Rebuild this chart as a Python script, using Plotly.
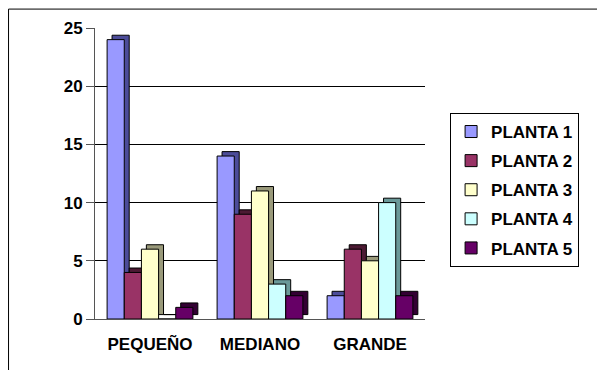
import plotly.graph_objects as go

categories = ["PEQUEÑO", "MEDIANO", "GRANDE"]
series_names = ["PLANTA 1", "PLANTA 2", "PLANTA 3", "PLANTA 4", "PLANTA 5"]
planta_1 = [24, 14, 2]
planta_2 = [4, 9, 6]
planta_3 = [6, 11, 5]
planta_4 = [0, 3, 10]
planta_5 = [1, 2, 2]
y_ticks = [0, 5, 10, 15, 20, 25]

colors = ["#9999FF", "#993366", "#FFFFCC", "#CCFFFF", "#660066"]
side_colors = ["#4C4C99", "#4C1A33", "#99997A", "#6A9999", "#330033"]
values = [planta_1, planta_2, planta_3, planta_4, planta_5]

group = 0.78
w = group / len(series_names)
dx, dy = 0.045, 0.38   # fake 3D depth

fig = go.Figure()
for i, (name, vals, col, scol) in enumerate(zip(series_names, values, colors, side_colors)):
    off = -group / 2 + i * w
    # darker "depth" face behind the bar
    fig.add_trace(go.Bar(
        x=categories, y=vals, base=[dy] * len(vals), offset=off + dx, width=w,
        marker=dict(color=scol, line=dict(color="black", width=1)),
        showlegend=False, hoverinfo="skip",
    ))
    fig.add_trace(go.Bar(
        x=categories, y=vals, name=name, legendgroup=name, offset=off, width=w,
        marker=dict(color=col, line=dict(color="black", width=1)),
    ))

# the page body adds an 8px offset, margins account for it
fig.update_layout(
    width=605, height=370,
    margin=dict(l=87, r=188, t=20, b=59),
    paper_bgcolor="white", plot_bgcolor="white",
    barmode="overlay",
    font=dict(family="Arial, Liberation Sans", color="black"),
    legend=dict(
        x=1.076, y=0.708, xanchor="left", yanchor="top",
        bordercolor="black", borderwidth=1,
        font=dict(size=17, color="black", weight="bold"),
        itemwidth=30, tracegroupgap=4,
    ),
    showlegend=True,
)
fig.update_xaxes(
    showline=True, linecolor="#555555", linewidth=1,
    ticks="", ticklabelstandoff=10,
    tickfont=dict(size=17, color="black", weight="bold"),
    showgrid=False,
)
fig.update_yaxes(
    range=[0, 25], tickvals=y_ticks,
    showline=True, linecolor="#555555", linewidth=1,
    ticks="outside", ticklen=8, tickcolor="#555555",
    tickfont=dict(size=17, color="black", weight="bold"),
    showgrid=True, gridcolor="black", gridwidth=1,
    zeroline=False, mirror=False,
)
# outer chart border (only top and left edges are visible)
fig.add_shape(type="rect", xref="paper", yref="paper",
              x0=-0.262, x1=2, y0=-0.5, y1=1.065,
              line=dict(color="black", width=1), fillcolor="rgba(0,0,0,0)")

fig.write_html("out.html")
